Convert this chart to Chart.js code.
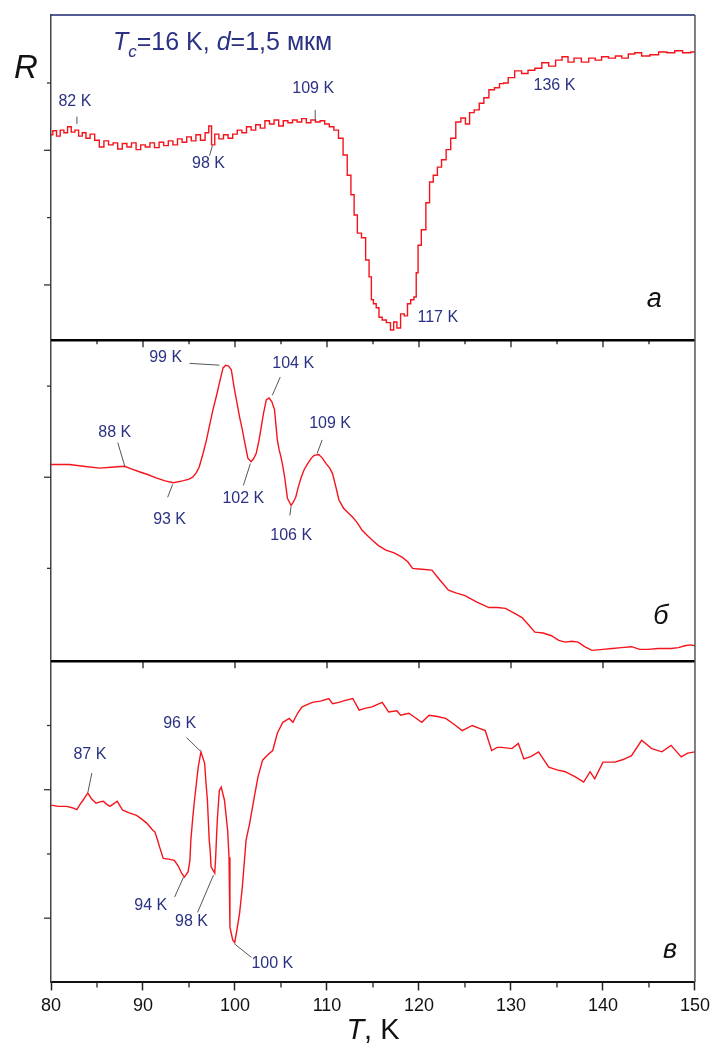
<!DOCTYPE html>
<html><head><meta charset="utf-8">
<script src="https://cdn.jsdelivr.net/npm/chart.js@4/dist/chart.umd.min.js"></script>
<style>html,body{margin:0;padding:0;background:#fff;}#wrap{position:relative;width:715px;height:1043px;}</style>
</head><body><div id="wrap"><canvas id="c" width="715" height="1043"></canvas></div>
<script>
// Panel а
const tA=[80.0,80.4,80.8,81.2,81.6,82.0,82.4,82.8,83.2,83.6,84.0,84.5,85.0,85.5,86.0,86.5,87.0,87.5,88.0,88.5,89.0,89.5,90.0,90.5,91.0,91.5,92.0,92.5,93.0,93.5,94.0,94.5,95.0,95.5,96.0,96.5,97.0,97.3,97.6,98.0,98.5,99.0,99.5,100.0,100.5,101.0,101.5,102.0,102.5,103.0,103.5,104.0,104.5,105.0,105.5,106.0,106.5,107.0,107.5,108.0,108.5,109.0,109.5,110.0,110.5,111.0,111.5,112.0,112.4,112.8,113.1,113.5,114.0,114.4,114.75,114.9,115.2,115.5,115.8,116.2,116.7,117.1,117.4,117.8,118.2,118.6,118.9,119.3,119.6,119.8,120.0,120.5,121.0,121.3,121.8,122.2,122.7,123.2,123.7,124.3,124.8,125.3,125.7,126.3,126.8,127.3,127.9,128.5,129.0,129.4,130.0,130.8,131.5,132.2,133.0,133.7,134.5,135.2,135.9,136.5,137.2,138.1,138.8,139.5,140.2,141.0,141.7,142.4,143.1,143.8,144.6,145.6,146.5,147.4,148.2,149.1,150.0];
const rA=[2.23,2.29,2.21,2.30,2.26,2.35,2.27,2.30,2.21,2.26,2.18,2.24,2.15,2.05,2.14,2.08,2.11,2.02,2.10,2.05,2.11,2.01,2.08,2.05,2.11,2.04,2.12,2.07,2.14,2.08,2.17,2.12,2.20,2.14,2.23,2.15,2.26,2.36,2.08,2.24,2.17,2.23,2.18,2.24,2.30,2.26,2.35,2.30,2.38,2.33,2.44,2.39,2.45,2.36,2.44,2.41,2.45,2.42,2.47,2.41,2.45,2.42,2.44,2.39,2.35,2.30,2.18,1.93,1.63,1.34,1.04,0.77,0.70,0.37,0.12,-0.22,-0.28,-0.34,-0.48,-0.52,-0.56,-0.67,-0.55,-0.64,-0.43,-0.46,-0.28,-0.22,-0.18,0.18,0.59,0.82,1.22,1.53,1.63,1.75,1.86,2.01,2.18,2.42,2.48,2.39,2.56,2.60,2.70,2.78,2.90,2.93,2.99,3.00,3.08,3.18,3.14,3.19,3.22,3.30,3.25,3.34,3.39,3.31,3.37,3.31,3.37,3.34,3.39,3.37,3.40,3.37,3.43,3.45,3.40,3.42,3.46,3.45,3.48,3.45,3.46];
// Panel б
const tB=[80.0,81.0,82.0,83.5,85.3,86.5,88.0,88.8,89.6,90.5,91.5,92.4,93.3,94.3,95.0,95.4,95.8,96.1,96.5,96.9,97.3,97.6,98.0,98.3,98.7,99.0,99.3,99.6,99.9,100.1,100.3,100.5,100.8,101.1,101.4,101.75,102.0,102.3,102.6,102.8,103.1,103.4,103.7,104.0,104.3,104.6,104.8,105.0,105.2,105.4,105.7,106.1,106.3,106.6,106.9,107.2,107.5,107.9,108.3,108.6,109.1,109.5,109.9,110.3,110.6,110.9,111.3,111.8,112.4,112.8,113.3,113.8,114.3,114.9,115.6,116.4,117.3,118.2,118.8,119.3,120.3,121.4,122.2,123.2,124.0,125.0,126.3,127.6,128.5,129.4,130.3,131.2,131.9,132.6,133.5,134.4,135.2,135.9,136.6,137.3,138.0,138.8,140.0,141.0,142.0,143.1,144.0,144.9,146.0,147.4,148.2,148.9,149.5,150.0];
const rB=[0.14,0.14,0.14,0.12,0.10,0.11,0.12,0.09,0.06,0.03,-0.01,-0.04,-0.06,-0.04,-0.02,0.00,0.05,0.11,0.25,0.41,0.60,0.74,0.90,1.03,1.20,1.23,1.22,1.18,0.99,0.88,0.77,0.66,0.52,0.36,0.21,0.17,0.20,0.26,0.40,0.52,0.70,0.85,0.87,0.83,0.74,0.41,0.30,0.22,0.12,0.00,-0.23,-0.31,-0.28,-0.22,-0.10,0.00,0.08,0.15,0.21,0.24,0.25,0.21,0.15,0.10,0.04,-0.08,-0.25,-0.34,-0.40,-0.44,-0.50,-0.58,-0.63,-0.69,-0.75,-0.80,-0.83,-0.88,-0.93,-1.00,-1.01,-1.02,-1.12,-1.24,-1.27,-1.30,-1.37,-1.43,-1.43,-1.44,-1.49,-1.54,-1.62,-1.70,-1.71,-1.74,-1.79,-1.81,-1.80,-1.81,-1.86,-1.90,-1.89,-1.88,-1.87,-1.86,-1.89,-1.89,-1.88,-1.88,-1.87,-1.85,-1.84,-1.85];
// Panel в
const tC=[80.0,80.8,81.7,82.3,82.8,83.2,83.5,84.0,84.4,84.9,85.3,85.7,86.0,86.4,86.8,87.2,87.5,87.8,88.5,89.3,89.8,90.4,91.0,91.3,91.6,91.8,92.2,92.8,93.4,93.8,94.2,94.5,94.9,95.1,95.2,95.4,95.6,96.0,96.3,96.5,96.7,96.85,97.0,97.2,97.3,97.4,97.8,97.9,98.0,98.1,98.3,98.5,98.85,99.2,99.35,99.45,99.75,99.97,100.2,100.5,100.8,101.2,101.6,102.1,102.5,103.0,103.6,104.1,104.6,105.2,105.9,106.3,106.8,107.3,108.4,109.3,110.2,110.6,111.3,112.0,112.8,113.5,114.2,114.9,115.5,116.0,116.7,117.6,118.0,118.9,119.6,120.3,121.1,122.0,122.9,123.8,124.7,125.8,126.5,127.2,127.9,128.5,129.0,130.1,130.8,131.4,132.2,133.0,134.1,135.0,135.9,137.0,137.9,138.6,139.1,140.0,141.3,142.2,143.1,144.2,145.3,146.4,147.4,148.5,149.2,150.0];
const rC=[1.76,1.74,1.74,1.72,1.69,1.78,1.84,1.95,1.86,1.79,1.81,1.82,1.78,1.74,1.78,1.82,1.75,1.68,1.64,1.60,1.55,1.48,1.38,1.34,1.21,1.11,0.93,0.92,0.90,0.82,0.70,0.64,0.72,0.90,1.21,1.55,1.84,2.35,2.59,2.50,2.41,2.10,1.84,1.21,1.06,0.80,0.70,0.95,1.30,1.58,1.99,2.04,1.84,1.37,0.95,-0.14,-0.34,-0.38,-0.19,0.08,0.49,1.21,1.48,1.89,2.20,2.46,2.55,2.61,2.88,3.05,3.11,3.05,3.19,3.29,3.36,3.38,3.42,3.34,3.36,3.39,3.42,3.24,3.27,3.29,3.33,3.36,3.21,3.23,3.16,3.19,3.12,3.05,3.16,3.14,3.11,3.02,2.92,3.00,2.96,2.92,2.61,2.66,2.66,2.64,2.72,2.48,2.52,2.59,2.35,2.31,2.28,2.20,2.12,2.28,2.17,2.43,2.43,2.47,2.53,2.77,2.64,2.59,2.69,2.51,2.57,2.59];

const xTickValues=[80,90,100,110,120,130,140,150];
const xMinorValues=[85,95,105,115,125,135,145];
const panelNames=['а','б','в'];
const noteTexts=['82 K','98 K','109 K','136 K','117 K','99 K','104 K','88 K','109 K','93 K','102 K','106 K','87 K','96 K','94 K','98 K','100 K'];

// label placement (in each panel's own data units)
const notes=[
 {p:'ya',tx:82.60,ty:2.73,l:[82.82,2.50,82.82,2.39]},
 {p:'ya',tx:97.12,ty:1.81,l:[97.23,1.92,97.55,2.07]},
 {p:'ya',tx:108.50,ty:2.91,l:[108.72,2.60,108.72,2.44]},
 {p:'ya',tx:134.72,ty:2.96},
 {p:'ya',tx:122.04,ty:-0.49},
 {p:'yb',tx:92.46,ty:1.31,l:[95.06,1.25,98.31,1.23]},
 {p:'yb',tx:106.33,ty:1.25,l:[104.92,1.10,104.06,0.90]},
 {p:'yb',tx:86.93,ty:0.49,l:[87.26,0.38,88.02,0.12]},
 {p:'yb',tx:110.34,ty:0.59,l:[109.47,0.41,108.93,0.26]},
 {p:'yb',tx:92.89,ty:-0.47,l:[92.68,-0.22,93.22,-0.08]},
 {p:'yb',tx:100.91,ty:-0.23,l:[100.91,-0.09,101.67,0.15]},
 {p:'yb',tx:106.11,ty:-0.64,l:[105.96,-0.42,106.1,-0.32]},
 {p:'yc',tx:84.23,ty:2.55,l:[84.44,2.26,84.01,1.96]},
 {p:'yc',tx:93.98,ty:3.03,l:[94.74,2.81,96.25,2.60]},
 {p:'yc',tx:90.84,ty:0.20,l:[93.44,0.33,94.41,0.64]},
 {p:'yc',tx:95.28,ty:-0.06,l:[95.93,0.09,97.66,0.67]},
 {p:'yc',tx:104.06,ty:-0.70,l:[101.78,-0.61,99.94,-0.40]}
];
const letterPos=[{p:'ya',tx:145.56,ty:-0.22},{p:'yb',tx:146.3,ty:-1.53},{p:'yc',tx:147.3,ty:-0.50}];

const FONT='"Liberation Sans", Arial, sans-serif';
const NAVY='#2b3283';
const RED='#f5141c';
const mk=(t,r)=>t.map((x,i)=>({x:x,y:r[i]}));

const deco={
 id:'deco',
 afterDraw(chart){
  const ctx=chart.ctx, ca=chart.chartArea, sx=chart.scales.x;
  const ys=[chart.scales.ya,chart.scales.yb,chart.scales.yc];
  ctx.save();
  ctx.strokeStyle='#333'; ctx.lineWidth=1.3;
  ys.forEach(s=>{
    for(let v=Math.ceil(s.min); v<=Math.floor(s.max); v++){
      const py=s.getPixelForValue(v);
      if(py<s.top+3||py>s.bottom-3) continue;
      const len=(Math.abs(v)%2===0)?7:4;
      ctx.beginPath(); ctx.moveTo(ca.left-len,py); ctx.lineTo(ca.left,py); ctx.stroke();
    }
  });
  ctx.strokeStyle='#222'; ctx.lineWidth=1.3;
  xMinorValues.forEach(v=>{const px=sx.getPixelForValue(v);
    ctx.beginPath(); ctx.moveTo(px,ca.bottom); ctx.lineTo(px,ca.bottom+5); ctx.stroke();});
  const yb=chart.scales.yb, yc=chart.scales.yc;
  xTickValues.slice(1,-1).forEach(v=>{const px=sx.getPixelForValue(v);
    ctx.beginPath(); ctx.moveTo(px,yb.top); ctx.lineTo(px,yb.top+7); ctx.stroke();
    ctx.beginPath(); ctx.moveTo(px,yc.top); ctx.lineTo(px,yc.top+7); ctx.stroke();});
  xMinorValues.forEach(v=>{const px=sx.getPixelForValue(v);
    ctx.beginPath(); ctx.moveTo(px,yb.top); ctx.lineTo(px,yb.top+4); ctx.stroke();});
  ctx.strokeStyle='#000'; ctx.lineWidth=2.5;
  [yb.top,yc.top].forEach(py=>{ctx.beginPath(); ctx.moveTo(ca.left,py); ctx.lineTo(ca.right,py); ctx.stroke();});
  ctx.strokeStyle='#1d2670'; ctx.lineWidth=1.5;
  ctx.beginPath(); ctx.moveTo(ca.left,ca.top); ctx.lineTo(ca.right,ca.top); ctx.stroke();
  ctx.strokeStyle='#555'; ctx.lineWidth=1.5;
  ctx.beginPath(); ctx.moveTo(ca.right,ca.top); ctx.lineTo(ca.right,ca.bottom); ctx.stroke();
  ctx.font='16px '+FONT; ctx.textAlign='center'; ctx.textBaseline='middle';
  notes.forEach((n,i)=>{
    const s=chart.scales[n.p];
    if(n.l){
      ctx.strokeStyle='#555'; ctx.lineWidth=1;
      ctx.beginPath(); ctx.moveTo(sx.getPixelForValue(n.l[0]),s.getPixelForValue(n.l[1]));
      ctx.lineTo(sx.getPixelForValue(n.l[2]),s.getPixelForValue(n.l[3])); ctx.stroke();
    }
    ctx.fillStyle=NAVY;
    ctx.fillText(noteTexts[i],sx.getPixelForValue(n.tx),s.getPixelForValue(n.ty));
  });
  ctx.fillStyle='#111'; ctx.font='italic 27px '+FONT;
  letterPos.forEach((n,i)=>{const s=chart.scales[n.p];
    ctx.fillText(panelNames[i],sx.getPixelForValue(n.tx),s.getPixelForValue(n.ty));});
  ctx.font='italic 33px '+FONT; ctx.textAlign='left'; ctx.textBaseline='alphabetic';
  ctx.fillText('R',ca.left-37,ca.top+63);
  let x=ca.left+62; const by=ca.top+35;
  ctx.fillStyle=NAVY;
  const seg=[['italic 25px ','T',0],['italic 17px ','c',7],['25px ','=16 K, ',0],['italic 25px ','d',0],['25px ','=1,5 мкм',0]];
  seg.forEach(s=>{ctx.font=s[0]+FONT; ctx.fillText(s[1],x,by+s[2]); x+=ctx.measureText(s[1]).width;});
  ctx.fillStyle='#111';
  const cx=(ca.left+ca.right)/2, ty=1039;
  ctx.font='italic 29px '+FONT; const wT=ctx.measureText('T').width;
  ctx.font='29px '+FONT; const wR=ctx.measureText(', K').width;
  let sx0=cx-(wT+wR)/2;
  ctx.font='italic 29px '+FONT; ctx.fillText('T',sx0,ty);
  ctx.font='29px '+FONT; ctx.fillText(', K',sx0+wT,ty);
  ctx.restore();
 }
};

const yCommon={type:'linear',position:'left',stack:'R',ticks:{display:false},grid:{display:false,drawTicks:false},border:{display:true,color:'#444',width:1.5}};

new Chart(document.getElementById('c'),{
 type:'line',
 data:{datasets:[
  {data:mk(tA,rA),yAxisID:'ya',xAxisID:'x',borderColor:RED,borderWidth:1.4,pointRadius:0,stepped:'middle',fill:false},
  {data:mk(tB,rB),yAxisID:'yb',xAxisID:'x',borderColor:RED,borderWidth:1.4,pointRadius:0,tension:0,fill:false},
  {data:mk(tC,rC),yAxisID:'yc',xAxisID:'x',borderColor:RED,borderWidth:1.4,pointRadius:0,tension:0,fill:false}
 ]},
 options:{
  responsive:false,animation:false,devicePixelRatio:1,
  layout:{padding:{left:51,right:18,top:15,bottom:21}},
  plugins:{legend:{display:false},tooltip:{enabled:false}},
  scales:{
   x:{type:'linear',position:'bottom',min:80,max:150,
      afterBuildTicks:s=>{s.ticks=xTickValues.map(v=>({value:v}));},
      ticks:{font:{family:FONT,size:18},color:'#111',padding:5,maxRotation:0,autoSkip:false},
      grid:{drawOnChartArea:false,drawTicks:true,tickLength:8,tickWidth:1.5,tickColor:'#222'},
      border:{display:true,color:'#111',width:2}},
   ya:Object.assign({},yCommon,{min:-0.82,max:4.01,stackWeight:325,weight:3}),
   yb:Object.assign({},yCommon,{min:-2.02,max:1.505,stackWeight:321,weight:2}),
   yc:Object.assign({},yCommon,{min:-1,max:4,stackWeight:321,weight:1})
  }
 },
 plugins:[deco]
});
</script></body></html>
